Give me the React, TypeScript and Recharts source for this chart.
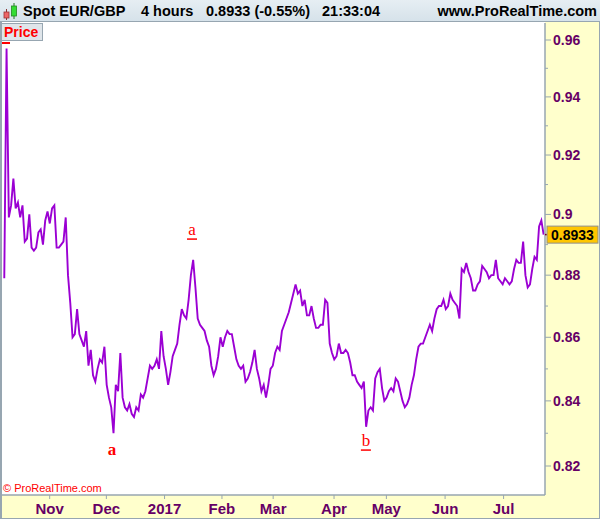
import React from 'react';
import { LineChart, Line, XAxis, YAxis, ReferenceDot } from 'recharts';

// EUR/GBP price, one sample roughly every 5 four-hour bars
const prices = [
  0.879, 0.957, 0.899, 0.903, 0.912, 0.902, 0.904, 0.899, 0.903, 0.891,
  0.892, 0.900, 0.889, 0.888, 0.889, 0.894, 0.895, 0.890, 0.898, 0.901,
  0.897, 0.902, 0.903, 0.889, 0.889, 0.890, 0.891, 0.899, 0.880, 0.871,
  0.860, 0.861, 0.869, 0.861, 0.859, 0.857, 0.862, 0.851, 0.856, 0.848,
  0.846, 0.850, 0.853, 0.852, 0.857, 0.845, 0.841, 0.838, 0.830, 0.845,
  0.843, 0.855, 0.841, 0.838, 0.837, 0.839, 0.836, 0.835, 0.838, 0.837,
  0.842, 0.841, 0.843, 0.847, 0.851, 0.850, 0.851, 0.853, 0.850, 0.862,
  0.854, 0.850, 0.845, 0.849, 0.854, 0.856, 0.858, 0.864, 0.869, 0.867,
  0.866, 0.872, 0.880, 0.885, 0.876, 0.866, 0.864, 0.863, 0.862, 0.859,
  0.857, 0.851, 0.848, 0.850, 0.854, 0.860, 0.857, 0.860, 0.862, 0.861,
  0.861, 0.857, 0.853, 0.851, 0.850, 0.851, 0.846, 0.847, 0.849, 0.852,
  0.856, 0.850, 0.847, 0.843, 0.845, 0.841, 0.845, 0.850, 0.851, 0.855,
  0.857, 0.856, 0.862, 0.864, 0.866, 0.868, 0.871, 0.874, 0.877, 0.874,
  0.875, 0.870, 0.872, 0.867, 0.867, 0.870, 0.866, 0.863, 0.863, 0.864,
  0.864, 0.872, 0.871, 0.858, 0.855, 0.853, 0.854, 0.858, 0.855, 0.855,
  0.856, 0.855, 0.852, 0.848, 0.848, 0.846, 0.845, 0.844, 0.846, 0.832,
  0.837, 0.838, 0.837, 0.847, 0.849, 0.850, 0.844, 0.840, 0.841, 0.843,
  0.844, 0.843, 0.847, 0.846, 0.843, 0.840, 0.838, 0.839, 0.841, 0.845,
  0.848, 0.853, 0.857, 0.858, 0.858, 0.860, 0.862, 0.864, 0.862, 0.866,
  0.869, 0.870, 0.870, 0.872, 0.869, 0.870, 0.874, 0.872, 0.871, 0.870,
  0.866, 0.882, 0.881, 0.884, 0.881, 0.879, 0.875, 0.875, 0.877, 0.878,
  0.883, 0.882, 0.881, 0.879, 0.880, 0.880, 0.885, 0.879, 0.878, 0.877,
  0.879, 0.878, 0.877, 0.878, 0.882, 0.885, 0.884, 0.884, 0.891, 0.880,
  0.876, 0.877, 0.882, 0.886, 0.885, 0.896, 0.898, 0.8933,
];

const monthLabels = ['Nov', 'Dec', '2017', 'Feb', 'Mar', 'Apr', 'May', 'Jun', 'Jul'];
const monthStartSample = [19.95, 44.86, 70.43, 95.65, 118.15, 144.9, 167.9, 193.7, 219.4];

const priceTicks = [0.82, 0.83, 0.84, 0.85, 0.86, 0.87, 0.88, 0.89, 0.9, 0.91, 0.92, 0.93, 0.94, 0.95, 0.96];
const labelledTicks = [0.82, 0.84, 0.86, 0.88, 0.9, 0.92, 0.94, 0.96];
const priceDomain = [0.81125, 0.96606];
const sampleDomain = [-1, 237.6];

const lastPrice = 0.8933;
const waveText = ['a', 'a', 'b'];
const waveSample = [47.3, 82.5, 158.9];
const wavePrice = [0.8249, 0.8948, 0.8276];
const waveUnderlined = [false, true, true];
const waveBold = [true, false, false];

const data = prices.map((p, i) => ({ sample: i, price: p }));

const FONT = '"Liberation Sans", Arial, Helvetica, sans-serif';
const AXIS_TEXT = '#660066';
const BORDER = '#97a6b1';

const XTick = (props: any) => {
  const { x, y, payload } = props;
  const idx = monthStartSample.indexOf(payload.value);
  return (
    <g>
      <line x1={x} x2={x} y1={y} y2={y + 4} stroke={BORDER} strokeWidth={1} />
      <text x={x} y={y + 19} textAnchor="middle" fill={AXIS_TEXT} fontWeight="bold" fontSize={15} fontFamily={FONT}>
        {idx >= 0 ? monthLabels[idx] : ''}
      </text>
    </g>
  );
};

const YTick = (props: any) => {
  const { x, y, payload } = props;
  const v = payload.value;
  const major = labelledTicks.some((t) => Math.abs(t - v) < 1e-9);
  return (
    <g>
      <line x1={x} x2={x + (major ? 6 : 3)} y1={y} y2={y} stroke={BORDER} strokeWidth={1} />
      {major && (
        <text x={x + 8} y={y + 5} textAnchor="start" fill={AXIS_TEXT} fontWeight="bold" fontSize={14} fontFamily={FONT}>
          {String(+v.toFixed(2))}
        </text>
      )}
    </g>
  );
};

const WaveMark = (i: number) => (props: any) => {
  const { cx, cy } = props;
  return (
    <g>
      <text
        x={cx}
        y={cy + 5}
        textAnchor="middle"
        fill="#ff0000"
        fontSize={17}
        fontWeight={waveBold[i] ? 'bold' : 'normal'}
        fontFamily='"Liberation Serif", "DejaVu Serif", serif'
      >
        {waveText[i]}
      </text>
      {waveUnderlined[i] && <line x1={cx - 5} x2={cx + 5} y1={cy + 9} y2={cy + 9} stroke="#ff0000" strokeWidth={1.5} />}
    </g>
  );
};

const LastPriceMark = (props: any) => {
  const { cx, cy } = props;
  return (
    <g>
      <line x1={cx} x2={cx + 5} y1={cy} y2={cy} stroke="#800020" strokeWidth={1.5} />
      <rect x={cx + 2} y={cy - 8.5} width={51} height={17} fill="#ffc600" stroke="#8e8e8e" strokeWidth={1} />
      <text x={cx + 27.5} y={cy + 5} textAnchor="middle" fill="#000" fontWeight="bold" fontSize={14} fontFamily={FONT}>
        {lastPrice.toFixed(4)}
      </text>
    </g>
  );
};

const abs = (s: React.CSSProperties): React.CSSProperties => ({ position: 'absolute', ...s });

export default function App() {
  return (
    <div style={abs({ left: 0, top: 0, width: 600, height: 519, background: '#ffffff', fontFamily: FONT, overflow: 'hidden' })}>
      {/* axis strips */}
      <div style={abs({ left: 545, top: 22, width: 55, height: 497, background: '#ffffcc' })} />
      <div style={abs({ left: 0, top: 495, width: 600, height: 24, background: '#ffffcc' })} />
      <div style={abs({ left: 0, top: 22, width: 1.5, height: 497, background: BORDER })} />
      <div style={abs({ left: 598.5, top: 22, width: 1.5, height: 497, background: BORDER })} />
      <div style={abs({ left: 0, top: 517.5, width: 600, height: 1.5, background: BORDER })} />

      {/* header */}
      <div
        style={abs({
          left: 0,
          top: 0,
          width: 600,
          height: 21,
          background: 'linear-gradient(#e6eef3, #d6e2ea)',
          borderBottom: `1.5px solid ${BORDER}`,
        })}
      />
      <svg style={abs({ left: 0, top: 0 })} width={20} height={22}>
        <line x1={6.5} x2={6.5} y1={9} y2={20} stroke="#883333" strokeWidth={1} />
        <rect x={4} y={12} width={5} height={6} fill="#ee6666" stroke="#993333" strokeWidth={0.8} />
        <line x1={14} x2={14} y1={3} y2={19} stroke="#227722" strokeWidth={1} />
        <rect x={11.5} y={6} width={5} height={10} fill="#33dd33" stroke="#228822" strokeWidth={0.8} />
      </svg>
      {[
        ['Spot EUR/GBP', 23],
        ['4 hours', 141],
        ['0.8933 (-0.55%)', 206],
        ['21:33:04', 322],
      ].map(([t, x]) => (
        <div
          key={t as string}
          style={abs({ left: x as number, top: 2, fontSize: 14.5, fontWeight: 'bold', color: '#000', whiteSpace: 'nowrap', lineHeight: '18px' })}
        >
          {t}
        </div>
      ))}
      <div style={abs({ right: 3, top: 2, fontSize: 14.5, fontWeight: 'bold', color: '#000', whiteSpace: 'nowrap', lineHeight: '18px' })}>
        www.ProRealTime.com
      </div>

      <LineChart
        width={600}
        height={519}
        data={data}
        margin={{ top: 23, right: 0, bottom: 0, left: 2 }}
        style={abs({ left: 0, top: 0 })}
      >
        <XAxis
          type="number"
          dataKey="sample"
          domain={sampleDomain}
          ticks={monthStartSample}
          interval={0}
          height={24}
          tickSize={0}
          tickMargin={0}
          tickLine={false}
          axisLine={{ stroke: BORDER, strokeWidth: 1.5 }}
          tick={(p: any) => <XTick {...p} />}
          allowDataOverflow
        />
        <YAxis
          orientation="right"
          width={55}
          scale="log"
          type="number"
          domain={priceDomain}
          ticks={priceTicks}
          interval={0}
          tickSize={0}
          tickMargin={0}
          tickLine={false}
          axisLine={{ stroke: BORDER, strokeWidth: 1.5 }}
          tick={(p: any) => <YTick {...p} />}
          allowDataOverflow
        />
        <Line
          type="linear"
          dataKey="price"
          stroke="#9b00d3"
          strokeWidth={1.9}
          strokeLinejoin="miter"
          dot={false}
          isAnimationActive={false}
        />
        {waveText.map((_, i) => (
          <ReferenceDot key={i} x={waveSample[i]} y={wavePrice[i]} r={0} ifOverflow="visible" shape={WaveMark(i)} />
        ))}
        <ReferenceDot x={sampleDomain[1]} y={lastPrice} r={0} ifOverflow="visible" shape={LastPriceMark} />
      </LineChart>

      {/* Price legend */}
      <div
        style={abs({
          left: 1,
          top: 23,
          width: 38,
          height: 16,
          background: '#dfe5ea',
          border: `1px solid ${BORDER}`,
          color: '#ff0000',
          fontWeight: 'bold',
          fontSize: 14,
          lineHeight: '16px',
          paddingLeft: 2,
        })}
      >
        Price
      </div>
      <div style={abs({ left: 2, top: 42, width: 8, height: 1.5, background: '#ff0000' })} />
      <div style={abs({ left: 3, top: 482, fontSize: 11, color: '#ff0000', whiteSpace: 'nowrap', lineHeight: '13px' })}>
        © ProRealTime.com
      </div>
    </div>
  );
}
